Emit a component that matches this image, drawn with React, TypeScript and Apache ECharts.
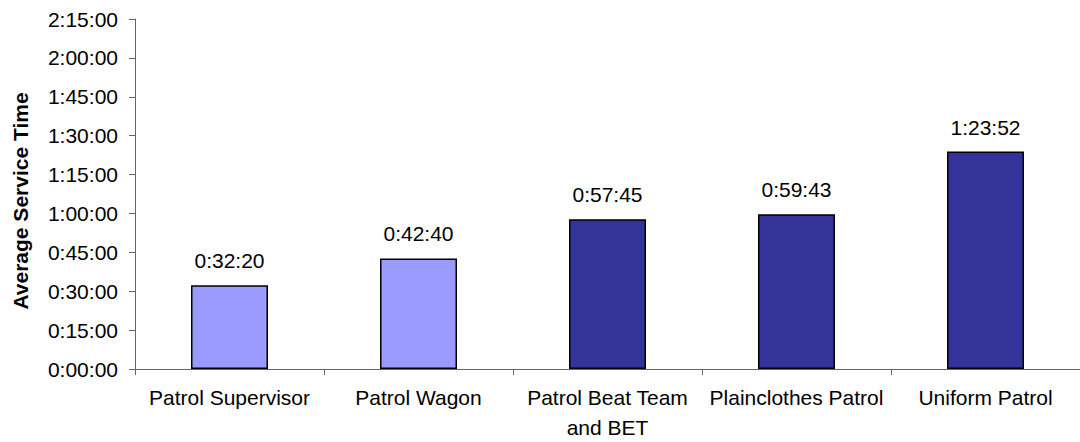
import React, { useEffect, useRef } from "react";
import * as echarts from "echarts";

const categories = [
  "Patrol Supervisor",
  "Patrol Wagon",
  "Patrol Beat Team\nand BET",
  "Plainclothes Patrol",
  "Uniform Patrol",
];
const serviceTimes = ["0:32:20", "0:42:40", "0:57:45", "0:59:43", "1:23:52"];
const barColors = ["#9999FF", "#9999FF", "#333399", "#333399", "#333399"];
const yMaxSeconds = 8100; // 2:15:00
const yIntervalSeconds = 900; // 0:15:00
const yAxisTitle = "Average Service Time";

const toSeconds = (s: string) => {
  const [h, m, sec] = s.split(":").map(Number);
  return h * 3600 + m * 60 + sec;
};
const fmt = (v: number) => {
  const t = Math.round(v);
  const h = Math.floor(t / 3600);
  const m = Math.floor((t % 3600) / 60);
  const s = t % 60;
  return `${h}:${String(m).padStart(2, "0")}:${String(s).padStart(2, "0")}`;
};

export default function App() {
  const ref = useRef<HTMLDivElement>(null);
  useEffect(() => {
    document.body.style.margin = "0";
    const chart = echarts.init(ref.current!, null, { renderer: "svg" });
    const font = "Liberation Sans, Arial, sans-serif";
    chart.setOption({
      animation: false,
      backgroundColor: "#ffffff",
      grid: { left: 135, right: -6, top: 19, bottom: 71 },
      xAxis: {
        type: "category",
        data: categories,
        axisLine: { lineStyle: { color: "#666666", width: 1 } },
        axisTick: { show: true, length: 6, lineStyle: { color: "#666666" } },
        axisLabel: {
          interval: 0,
          color: "#000000",
          fontFamily: font,
          fontSize: 21,
          lineHeight: 30,
          margin: 13,
        },
      },
      yAxis: {
        type: "value",
        min: 0,
        max: yMaxSeconds,
        interval: yIntervalSeconds,
        name: yAxisTitle,
        nameLocation: "middle",
        nameGap: 104,
        nameRotate: 90,
        nameTextStyle: {
          color: "#000000",
          fontFamily: font,
          fontSize: 21,
          fontWeight: "bold",
          padding: [0, 14, 0, 0],
        },
        splitLine: { show: false },
        axisLine: { show: true, lineStyle: { color: "#666666", width: 1 } },
        axisTick: { show: true, length: 6, lineStyle: { color: "#666666" } },
        axisLabel: {
          color: "#000000",
          fontFamily: font,
          fontSize: 21,
          margin: 17,
          formatter: (v: number) => fmt(v),
        },
      },
      series: [
        {
          type: "bar",
          barWidth: 77,
          data: serviceTimes.map((s, i) => ({
            value: toSeconds(s),
            itemStyle: { color: barColors[i], borderColor: "#000000", borderWidth: 1.5 },
          })),
          label: {
            show: true,
            position: "top",
            distance: 14,
            color: "#000000",
            fontFamily: font,
            fontSize: 21,
            formatter: (p: any) => fmt(p.value),
          },
        },
      ],
    });
    return () => chart.dispose();
  }, []);
  return <div ref={ref} style={{ width: 1080, height: 442 }} />;
}
